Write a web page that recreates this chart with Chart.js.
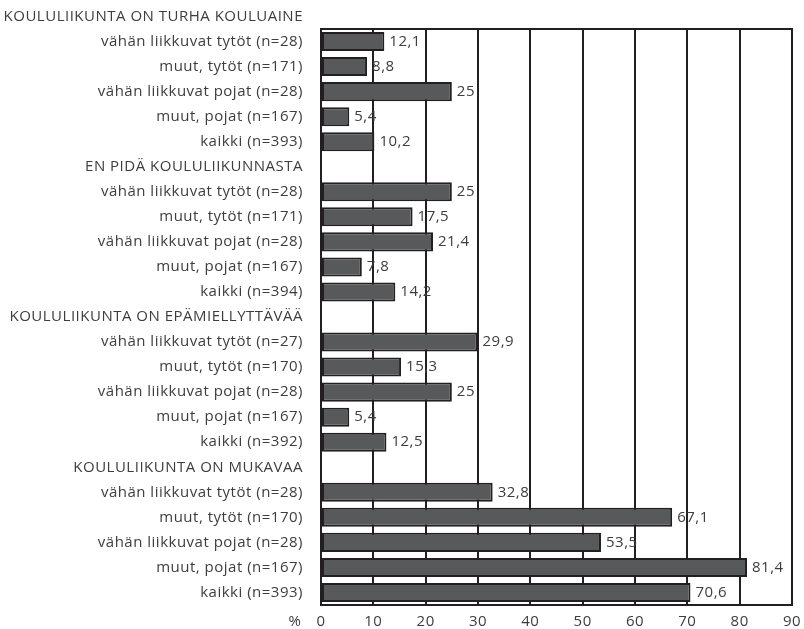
<!DOCTYPE html>
<html>
<head>
<meta charset="utf-8">
<title>Koululiikunta</title>
<script src="https://cdn.jsdelivr.net/npm/chart.js@4.4.1/dist/chart.umd.min.js"></script>
<style>
  html, body { margin: 0; padding: 0; background: #fff; }
  #wrap { width: 804px; height: 629px; }
</style>
</head>
<body>
<div id="wrap"><canvas id="myChart" width="804" height="629"></canvas></div>
<script>
// group headers
var headers = [
    'KOULULIIKUNTA ON TURHA KOULUAINE',
    'EN PIDÄ KOULULIIKUNNASTA',
    'KOULULIIKUNTA ON EPÄMIELLYTTÄVÄÄ',
    'KOULULIIKUNTA ON MUKAVAA'
];

// rows under each header
var turhaRows = ['vähän liikkuvat tytöt (n=28)', 'muut, tytöt (n=171)', 'vähän liikkuvat pojat (n=28)', 'muut, pojat (n=167)', 'kaikki (n=393)'];
var turhaValues = [12.1, 8.8, 25, 5.4, 10.2];

var enPidaRows = ['vähän liikkuvat tytöt (n=28)', 'muut, tytöt (n=171)', 'vähän liikkuvat pojat (n=28)', 'muut, pojat (n=167)', 'kaikki (n=394)'];
var enPidaValues = [25, 17.5, 21.4, 7.8, 14.2];

var epamRows = ['vähän liikkuvat tytöt (n=27)', 'muut, tytöt (n=170)', 'vähän liikkuvat pojat (n=28)', 'muut, pojat (n=167)', 'kaikki (n=392)'];
var epamValues = [29.9, 15.3, 25, 5.4, 12.5];

var mukavaaRows = ['vähän liikkuvat tytöt (n=28)', 'muut, tytöt (n=170)', 'vähän liikkuvat pojat (n=28)', 'muut, pojat (n=167)', 'kaikki (n=393)'];
var mukavaaValues = [32.8, 67.1, 53.5, 81.4, 70.6];

var xTicks = [0, 10, 20, 30, 40, 50, 60, 70, 80, 90];

// flatten into one category list, header rows get no bar
var labels = [];
var values = [];
[[turhaRows, turhaValues], [enPidaRows, enPidaValues], [epamRows, epamValues], [mukavaaRows, mukavaaValues]].forEach(function(g, i){
    labels.push(headers[i]);
    values.push(null);
    g[0].forEach(function(r, j){
        labels.push(r);
        values.push(g[1][j]);
    });
});

var FONT = '"Open Sans", "DejaVu Sans", sans-serif';
var FSIZE = 15;
var TEXT = '#3d3d3d';
var INK = '#231f20';

// a bit of tracking on all text
var spacingPlugin = {
    id: 'spacing',
    beforeDraw: function(chart){
        chart.ctx.letterSpacing = '0.5px';
    }
};

// frame round the plot area, x tick labels, "%" and the first header above the plot
var framePlugin = {
    id: 'frame',
    beforeDatasetsDraw: function(chart){
        var a = chart.chartArea, ctx = chart.ctx;
        ctx.save();
        ctx.strokeStyle = INK;
        ctx.lineWidth = 2;
        ctx.strokeRect(a.left, a.top, a.right - a.left, a.bottom - a.top);
        ctx.restore();
    },
    afterDraw: function(chart){
        var ctx = chart.ctx, y = chart.scales.y, x = chart.scales.x, a = chart.chartArea;
        ctx.save();
        ctx.font = FSIZE + 'px ' + FONT;
        ctx.fillStyle = TEXT;
        ctx.textBaseline = 'middle';
        ctx.textAlign = 'right';
        ctx.fillText(labels[0], y.right - 18, y.getPixelForValue(0));
        ctx.textAlign = 'center';
        xTicks.forEach(function(v){
            ctx.fillText(String(v), x.getPixelForValue(v), a.bottom + 17);
        });
        ctx.fillText('%', a.left - 26, a.bottom + 17);
        ctx.restore();
    }
};

// value labels at the end of each bar
var valuePlugin = {
    id: 'values',
    afterDatasetsDraw: function(chart){
        var ctx = chart.ctx;
        var meta = chart.getDatasetMeta(0);
        ctx.save();
        ctx.font = FSIZE + 'px ' + FONT;
        ctx.fillStyle = TEXT;
        ctx.textAlign = 'left';
        ctx.textBaseline = 'middle';
        meta.data.forEach(function(bar, i){
            var v = values[i];
            if (v === null || i < 1) return;
            ctx.fillText(String(v).replace('.', ','), bar.x + 5, bar.y);
        });
        ctx.restore();
    }
};

var ctx = document.getElementById('myChart').getContext('2d');
var myChart = new Chart(ctx, {
    type: 'bar',
    data: {
        labels: labels,
        datasets: [{
            data: values,
            backgroundColor: '#58595b',
            borderColor: INK,
            borderWidth: 2,
            borderSkipped: false,
            barPercentage: 0.76,
            categoryPercentage: 1
        }]
    },
    options: {
        indexAxis: 'y',
        responsive: false,
        animation: false,
        layout: { padding: { top: 29, right: 12, left: 0, bottom: 0 } },
        plugins: {
            legend: { display: false },
            tooltip: { enabled: false }
        },
        scales: {
            x: {
                min: 0,
                max: 90,
                afterBuildTicks: function(scale){
                    scale.ticks = xTicks.map(function(v){ return { value: v }; });
                },
                afterFit: function(scale){
                    scale.height = 24;
                    scale.paddingLeft = 0;
                    scale.paddingRight = 0;
                },
                grid: { color: INK, lineWidth: 2, drawTicks: false },
                border: { display: false },
                ticks: { display: false }
            },
            y: {
                type: 'category',
                min: 1,
                max: labels.length - 1,
                afterFit: function(scale){
                    scale.width = 321;
                    scale.paddingTop = 0;
                    scale.paddingBottom = 0;
                },
                grid: { display: false, drawTicks: false },
                border: { display: false },
                ticks: { padding: 18, color: TEXT, autoSkip: false, font: { size: FSIZE, family: FONT } }
            }
        }
    },
    plugins: [spacingPlugin, framePlugin, valuePlugin]
});
</script>
</body>
</html>
